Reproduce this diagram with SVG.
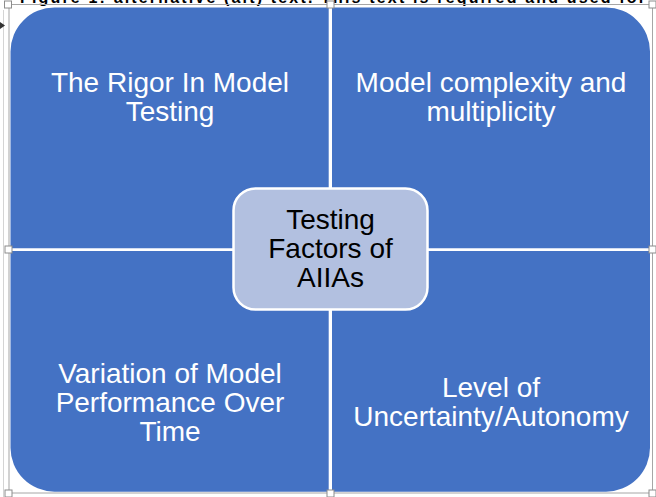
<svg xmlns="http://www.w3.org/2000/svg" width="656" height="497" viewBox="0 0 656 497">
<style>
.q{fill:#4472C4;}
.t{font-family:"Liberation Sans",Arial,sans-serif;font-size:28px;fill:#FFFFFF;text-anchor:middle;}
.c{font-family:"Liberation Sans",Arial,sans-serif;font-size:28px;fill:#000000;text-anchor:middle;}
.h{fill:#FFFFFF;stroke:#8C8C8C;stroke-width:1;}
</style>
<rect x="0" y="0" width="656" height="497" fill="#FFFFFF"/>
<text x="20" y="3" font-family="Liberation Sans, Arial, sans-serif" font-size="16" font-weight="bold" fill="#000" textLength="625" lengthAdjust="spacing">Figure 1: alternative (alt) text. This text is required and used for</text>
<line x1="3.5" y1="10" x2="3.5" y2="497" stroke="#D4D4D4" stroke-width="1"/>
<path d="M0,22 L5,25.5 L0,29 Z" fill="#333"/>
<rect x="9" y="4.5" width="643.5" height="488.5" fill="none" stroke="#A6A6A6" stroke-width="1"/>
<g id="node-rigor">
<path class="q" d="M10.5,248.3 V51.5 A44,44 0 0 1 54.5,7.5 H328.7 V248.3 Z"/>
<text class="t" x="170" y="92">The Rigor In Model</text>
<text class="t" x="170" y="121">Testing</text>
</g>
<g id="node-complexity">
<path class="q" d="M332,7.5 H606 A44,44 0 0 1 650,51.5 V248.3 H332 Z"/>
<text class="t" x="491" y="92">Model complexity and</text>
<text class="t" x="491" y="121">multiplicity</text>
</g>
<g id="node-variation">
<path class="q" d="M10.5,251 H328.7 V491.7 H54.5 A44,44 0 0 1 10.5,447.7 Z"/>
<text class="t" x="170" y="383">Variation of Model</text>
<text class="t" x="170" y="412">Performance Over</text>
<text class="t" x="170" y="441">Time</text>
</g>
<g id="node-uncertainty">
<path class="q" d="M332,251 H650 V447.7 A44,44 0 0 1 606,491.7 H332 Z"/>
<text class="t" x="491" y="397">Level of</text>
<text class="t" x="491" y="426">Uncertainty/Autonomy</text>
</g>
<g id="connectors"></g>
<g id="node-center">
<rect x="233.5" y="188.5" width="194" height="121" rx="22" fill="#B2C0E0" stroke="#FFFFFF" stroke-width="2.5"/>
<text class="c" x="330.5" y="229">Testing</text>
<text class="c" x="330.5" y="258">Factors of</text>
<text class="c" x="330.5" y="287">AIIAs</text>
</g>
<g id="handles">
<rect class="h" x="4.5" y="1" width="7" height="7"/>
<rect class="h" x="327" y="1" width="7" height="7"/>
<rect class="h" x="649" y="1" width="7" height="7"/>
<rect class="h" x="5" y="246" width="7" height="7"/>
<rect class="h" x="649" y="246" width="7" height="7"/>
<rect class="h" x="5" y="490" width="7" height="7"/>
<rect class="h" x="327" y="490" width="7" height="7"/>
<rect class="h" x="649" y="490" width="7" height="7"/>
</g>
</svg>
